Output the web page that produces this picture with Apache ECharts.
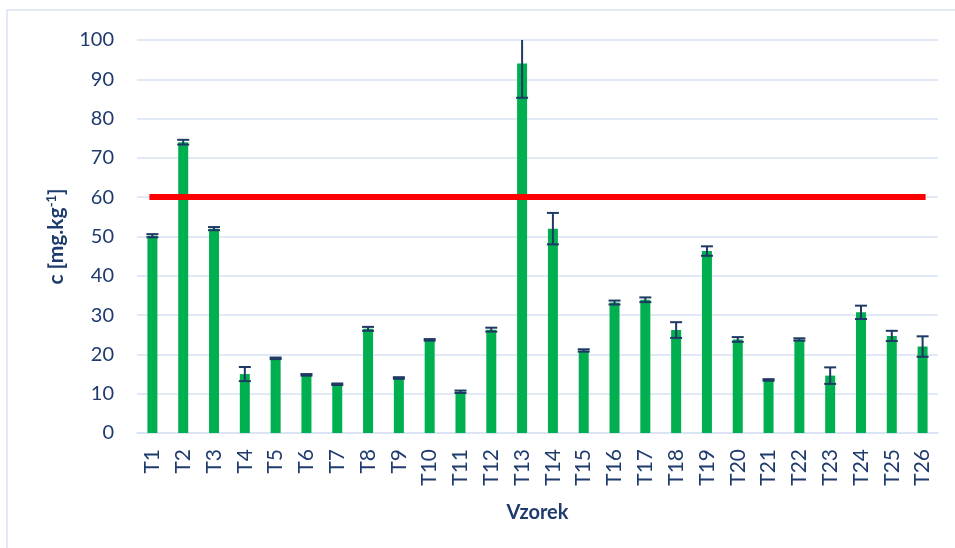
<!DOCTYPE html>
<html>
<head>
<meta charset="utf-8">
<script src="https://cdn.jsdelivr.net/npm/echarts@6/dist/echarts.min.js"></script>
<style>
  html, body { margin: 0; padding: 0; background: #fff; }
  #main { width: 955px; height: 548px; }
</style>
</head>
<body>
<div id="main"></div>
<script>
const categories = ['T1','T2','T3','T4','T5','T6','T7','T8','T9','T10','T11','T12','T13',
  'T14','T15','T16','T17','T18','T19','T20','T21','T22','T23','T24','T25','T26'];
const values = [50.2, 74, 52, 15, 19, 14.8, 12.4, 26.5, 14, 23.7, 10.5, 26.3, 94,
  52, 21, 33.2, 33.9, 26.2, 46.3, 23.8, 13.5, 23.8, 14.6, 30.7, 24.7, 22];
const errors = [0.4, 0.6, 0.4, 1.8, 0.2, 0.2, 0.2, 0.5, 0.2, 0.2, 0.3, 0.5, 8.7,
  4, 0.3, 0.5, 0.6, 2, 1.2, 0.6, 0.2, 0.3, 2.1, 1.7, 1.3, 2.6];
const limitValue = 60;
const yTicks = { min: 0, max: 100, interval: 10 };

const textColor = '#1F3B6E';
const gridColor = '#D9E2F3';
const fontFamily = 'Lato, "Open Sans", sans-serif';

var chartDom = document.getElementById('main');
var myChart = echarts.init(chartDom);
var option;

option = {
  animation: false,
  graphic: [{
    type: 'rect',
    shape: { x: 7, y: 10, width: 960, height: 560 },
    style: { fill: 'none', stroke: gridColor, lineWidth: 1.5 },
    silent: true
  }],
  grid: { left: 137, right: 17, top: 40, bottom: 115 },
  xAxis: {
    type: 'category',
    data: categories,
    name: 'Vzorek',
    nameLocation: 'middle',
    nameGap: 70,
    nameTextStyle: { color: textColor, fontSize: 20, fontWeight: 'bold', fontFamily: fontFamily },
    axisLine: { lineStyle: { color: gridColor, width: 1.5 } },
    axisTick: { show: false },
    axisLabel: { rotate: 90, color: textColor, fontSize: 21, fontFamily: fontFamily, margin: 16 }
  },
  yAxis: {
    type: 'value',
    min: yTicks.min,
    max: yTicks.max,
    interval: yTicks.interval,
    name: '{n|c [mg.kg}{s|-1}{n|]}',
    nameLocation: 'middle',
    nameGap: 70,
    nameRotate: 90,
    nameTextStyle: {
      rich: {
        n: { color: textColor, fontSize: 21, fontWeight: 'bold', fontFamily: fontFamily },
        s: { color: textColor, fontSize: 13, fontWeight: 'bold', fontFamily: fontFamily, verticalAlign: 'top', padding: [0, 0, 9, 0] }
      }
    },
    axisLine: { show: false },
    axisTick: { show: false },
    axisLabel: { color: textColor, fontSize: 20, fontFamily: fontFamily, margin: 23 },
    splitLine: { lineStyle: { color: gridColor, width: 1.5 } }
  },
  series: [
    {
      name: 'c',
      type: 'bar',
      data: values,
      barWidth: 10,
      itemStyle: { color: '#00B050' },
      markLine: {
        silent: true,
        symbol: 'none',
        label: { show: false },
        lineStyle: { color: '#FF0000', width: 6, type: 'solid', cap: 'square' },
        data: [[
          { coord: [categories[0], limitValue] },
          { coord: [categories[categories.length - 1], limitValue] }
        ]]
      }
    },
    {
      name: 'err',
      type: 'custom',
      data: values.map(function (v, i) { return [i, v, errors[i]]; }),
      z: 5,
      renderItem: function (params, api) {
        var idx = api.value(0);
        var v = api.value(1);
        var e = api.value(2);
        var hiVal = Math.min(v + e, yTicks.max);
        var hi = api.coord([idx, hiVal]);
        var lo = api.coord([idx, v - e]);
        var hw = 6;
        var style = { stroke: '#1F3864', lineWidth: 2 };
        var children = [
          { type: 'line', shape: { x1: hi[0], y1: hi[1], x2: lo[0], y2: lo[1] }, style: style },
          { type: 'line', shape: { x1: lo[0] - hw, y1: lo[1], x2: lo[0] + hw, y2: lo[1] }, style: style }
        ];
        if (v + e <= yTicks.max) {
          children.push({ type: 'line', shape: { x1: hi[0] - hw, y1: hi[1], x2: hi[0] + hw, y2: hi[1] }, style: style });
        }
        return { type: 'group', children: children };
      }
    }
  ]
};

option && myChart.setOption(option);
</script>
</body>
</html>
